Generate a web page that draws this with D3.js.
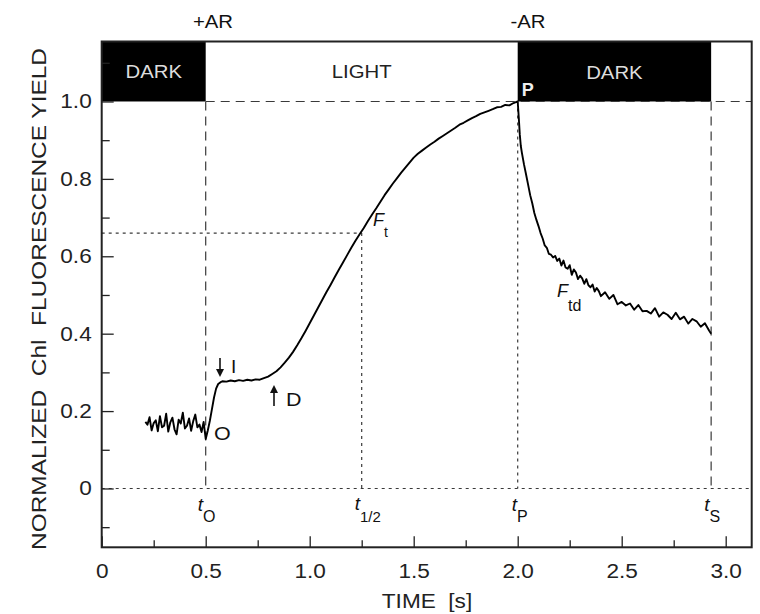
<!DOCTYPE html>
<html>
<head>
<meta charset="utf-8">
<script src="https://cdn.jsdelivr.net/npm/d3@7"></script>
<style>
  body { margin: 0; background: #fff; }
  svg { display: block; font-family: "Liberation Sans", Arial, sans-serif; }
  text { white-space: pre; }
</style>
</head>
<body>
<svg id="chart" width="760" height="614"></svg>
<script>
// tempo (s) e rendimento de fluorescência normalizado
const timeS = [
  0.21, 0.22, 0.23, 0.24, 0.25, 0.26, 0.27, 0.28, 0.29, 0.30,
  0.31, 0.32, 0.33, 0.34, 0.35, 0.36, 0.37, 0.38, 0.39, 0.40,
  0.41, 0.42, 0.43, 0.44, 0.45, 0.46, 0.47, 0.48, 0.49, 0.50,
  0.51, 0.52, 0.53, 0.54, 0.55, 0.56, 0.57, 0.58, 0.60, 0.62,
  0.64, 0.66, 0.68, 0.70, 0.72, 0.74, 0.76, 0.78, 0.80, 0.82,
  0.84, 0.86, 0.88, 0.90, 0.92, 0.94, 0.96, 0.98, 1.00, 1.02,
  1.04, 1.06, 1.08, 1.10, 1.12, 1.14, 1.16, 1.18, 1.20, 1.22,
  1.24, 1.26, 1.28, 1.30, 1.32, 1.34, 1.36, 1.38, 1.40, 1.42,
  1.44, 1.46, 1.48, 1.50, 1.52, 1.54, 1.56, 1.58, 1.60, 1.62,
  1.64, 1.66, 1.68, 1.70, 1.72, 1.74, 1.76, 1.78, 1.80, 1.82,
  1.84, 1.86, 1.88, 1.90, 1.92, 1.94, 1.96, 1.98, 2.00,
  2.005, 2.01, 2.015, 2.02, 2.03, 2.04, 2.05, 2.06, 2.07, 2.08,
  2.09, 2.10, 2.11, 2.12, 2.13, 2.14, 2.15, 2.16, 2.17, 2.18,
  2.19, 2.20, 2.21, 2.22, 2.23, 2.24, 2.25, 2.26, 2.27, 2.28,
  2.29, 2.30, 2.31, 2.32, 2.33, 2.34, 2.35, 2.36, 2.37, 2.38,
  2.39, 2.40, 2.42, 2.44, 2.46, 2.48, 2.50, 2.52, 2.54, 2.56,
  2.58, 2.60, 2.62, 2.64, 2.66, 2.68, 2.70, 2.72, 2.74, 2.76,
  2.78, 2.80, 2.82, 2.84, 2.86, 2.88, 2.90, 2.92, 2.93
];
const yieldF = [
  0.172, 0.165, 0.184, 0.150, 0.169, 0.176, 0.148, 0.187, 0.158, 0.162,
  0.193, 0.147, 0.171, 0.183, 0.153, 0.140, 0.178, 0.168, 0.196, 0.155,
  0.162, 0.181, 0.149, 0.174, 0.191, 0.158, 0.165, 0.146, 0.172, 0.128,
  0.150, 0.175, 0.205, 0.235, 0.258, 0.270, 0.274, 0.277, 0.276, 0.279,
  0.277, 0.280, 0.278, 0.281, 0.279, 0.282, 0.281, 0.285, 0.289, 0.296,
  0.303, 0.313, 0.325, 0.338, 0.353, 0.370, 0.388, 0.407, 0.427, 0.447,
  0.467, 0.487, 0.507, 0.526, 0.546, 0.565, 0.584, 0.603, 0.622, 0.640,
  0.657, 0.673, 0.691, 0.708, 0.724, 0.741, 0.758, 0.773, 0.788, 0.802,
  0.816, 0.829, 0.842, 0.855, 0.865, 0.873, 0.881, 0.889, 0.896, 0.904,
  0.911, 0.918, 0.925, 0.932, 0.940, 0.945, 0.951, 0.957, 0.962, 0.968,
  0.972, 0.976, 0.980, 0.985, 0.986, 0.991, 0.990, 0.996, 1.000,
  0.960, 0.915, 0.885, 0.868, 0.838, 0.812, 0.785, 0.758, 0.737, 0.712,
  0.694, 0.678, 0.660, 0.646, 0.628, 0.622, 0.606, 0.604, 0.597, 0.601,
  0.588, 0.594, 0.576, 0.589, 0.571, 0.568, 0.577, 0.552, 0.566, 0.558,
  0.541, 0.550, 0.543, 0.529, 0.541, 0.525, 0.520, 0.527, 0.509, 0.518,
  0.510, 0.497, 0.507, 0.490, 0.500, 0.476, 0.482, 0.473, 0.478, 0.462,
  0.474, 0.458, 0.459, 0.452, 0.466, 0.444, 0.455, 0.449, 0.438, 0.454,
  0.437, 0.444, 0.426, 0.438, 0.432, 0.418, 0.427, 0.408, 0.400
];

// ticks dos eixos
const xMajorTicks = [0, 0.5, 1.0, 1.5, 2.0, 2.5, 3.0];
const xMinorTicks = [0.25, 0.75, 1.25, 1.75, 2.25, 2.75];
const yMajorTicks = [0, 0.2, 0.4, 0.6, 0.8, 1.0];
const yMinorTicks = [-0.1, 0.1, 0.3, 0.5, 0.7, 0.9, 1.1];

// tempos característicos e nível F(t1/2)
const tO = 0.5, tHalf = 1.25, tP = 2.0, tS = 2.93;
const fHalf = 0.66;

const svg = d3.select("#chart");

const x = d3.scaleLinear().domain([0, 3.125]).range([101.7, 751.7]);
const y = d3.scaleLinear().domain([-0.152, 1.155]).range([547.3, 41.5]);

const fmt = d => d === 0 ? "0" : d3.format(".1f")(d);

// caixas pretas (escuro)
svg.append("rect")
  .attr("x", x(0)).attr("y", y(1.155))
  .attr("width", x(tO) - x(0)).attr("height", y(1.0) - y(1.155))
  .attr("fill", "#000");
svg.append("rect")
  .attr("x", x(tP)).attr("y", y(1.155))
  .attr("width", x(tS) - x(tP)).attr("height", y(1.0) - y(1.155))
  .attr("fill", "#000");

// linhas guia
const longDash = "9,6";
const shortDot = "3,4";
const guide = (x1, y1, x2, y2, dash) => svg.append("line")
  .attr("x1", x(x1)).attr("y1", y(y1))
  .attr("x2", x(x2)).attr("y2", y(y2))
  .attr("stroke", "#3a3a3a").attr("stroke-width", 1.2)
  .attr("stroke-dasharray", dash);

guide(tO, 1.0, 3.125, 1.0, longDash);
guide(tO, 1.0, tO, 0, longDash);
guide(tS, 1.0, tS, 0, longDash);
guide(0, 0, 3.125, 0, shortDot);
guide(0, fHalf, tHalf, fHalf, shortDot);
guide(tHalf, fHalf, tHalf, 0, shortDot);
guide(tP, 1.0, tP, 0, shortDot);

// curva
const line = d3.line()
  .x((d, i) => x(timeS[i]))
  .y(d => y(d));

svg.append("path")
  .datum(yieldF)
  .attr("d", line)
  .attr("fill", "none")
  .attr("stroke", "#000")
  .attr("stroke-width", 1.9)
  .attr("stroke-linejoin", "round");

// eixos com ticks para dentro
svg.append("g")
  .attr("transform", `translate(0,${y(-0.152)})`)
  .call(d3.axisBottom(x).tickValues(xMajorTicks).tickFormat(fmt)
    .tickSizeInner(-11).tickSizeOuter(0).tickPadding(17));
svg.append("g")
  .attr("transform", `translate(0,${y(-0.152)})`)
  .call(d3.axisBottom(x).tickValues(xMinorTicks).tickFormat("")
    .tickSizeInner(-7).tickSizeOuter(0));

svg.append("g")
  .attr("transform", `translate(${x(0)},0)`)
  .call(d3.axisLeft(y).tickValues(yMajorTicks).tickFormat(fmt)
    .tickSizeInner(-12).tickSizeOuter(0).tickPadding(10));
svg.append("g")
  .attr("transform", `translate(${x(0)},0)`)
  .call(d3.axisLeft(y).tickValues(yMinorTicks).tickFormat("")
    .tickSizeInner(-8).tickSizeOuter(0));

svg.selectAll(".domain").remove();
svg.selectAll(".tick line").attr("stroke", "#222").attr("stroke-width", 1.3);
svg.selectAll(".tick text")
  .attr("font-family", "Liberation Sans, Arial, sans-serif")
  .style("font-size", "20px")
  .attr("fill", "#222");

// moldura
svg.append("rect")
  .attr("x", x(0)).attr("y", y(1.155))
  .attr("width", x(3.125) - x(0)).attr("height", y(-0.152) - y(1.155))
  .attr("fill", "none").attr("stroke", "#222").attr("stroke-width", 2);

// títulos dos eixos
svg.append("text")
  .attr("transform", `translate(46,${299}) rotate(-90)`)
  .attr("text-anchor", "middle")
  .attr("font-size", 20)
  .attr("fill", "#222")
  .attr("textLength", 502).attr("lengthAdjust", "spacingAndGlyphs")
  .text("NORMALIZED  Chl  FLUORESCENCE YIELD");

svg.append("text")
  .attr("x", 427).attr("y", 608)
  .attr("text-anchor", "middle")
  .attr("font-size", 20)
  .attr("fill", "#222")
  .attr("class", "wide")
  .text("TIME  [s]");

// rótulos de luz/escuro
const label = (tx, ty, txt, color, size) => svg.append("text")
  .attr("x", tx).attr("y", ty)
  .attr("text-anchor", "middle")
  .attr("font-size", size)
  .attr("fill", color)
  .attr("class", "wide")
  .text(txt);

label(213, 28, "+AR", "#111", 18);
label(528, 28, "-AR", "#111", 18);
label((x(0) + x(tO)) / 2, 78, "DARK", "#ddd", 18);
label((x(tO) + x(tP)) / 2, 78, "LIGHT", "#222", 18);
label((x(tP) + x(tS)) / 2, 79, "DARK", "#ddd", 18);

svg.append("text")
  .attr("x", x(tP) + 4).attr("y", 96)
  .attr("font-size", 18).attr("font-weight", "bold")
  .attr("fill", "#eee")
  .text("P");

// O, I, D
svg.append("text").attr("x", 214).attr("y", 440)
  .attr("font-size", 19).attr("fill", "#111").attr("class", "wide").text("O");
svg.append("text").attr("x", 231).attr("y", 373)
  .attr("font-size", 19).attr("fill", "#111").text("I");
svg.append("text").attr("x", 286).attr("y", 406)
  .attr("font-size", 19).attr("fill", "#111").attr("class", "wide").text("D");

const arrow = (ax, y1, y2) => {
  svg.append("line")
    .attr("x1", ax).attr("y1", y1).attr("x2", ax).attr("y2", y2 + (y2 > y1 ? -5 : 5))
    .attr("stroke", "#111").attr("stroke-width", 1.6);
  const d = y2 > y1 ? -1 : 1;
  svg.append("path")
    .attr("d", `M${ax},${y2} L${ax - 4},${y2 + d * 8} L${ax + 4},${y2 + d * 8} Z`)
    .attr("fill", "#111");
};
arrow(220, 358, 377);
arrow(274, 406, 385);

// F(t), F(td) e tempos
const subLabel = (tx, ty, main, sub, size, subSize, dy) => {
  const t = svg.append("text").attr("x", tx).attr("y", ty)
    .attr("font-size", size).attr("fill", "#111");
  t.append("tspan").attr("font-style", "italic").text(main);
  t.append("tspan").attr("font-size", subSize).attr("dy", dy).text(sub);
};
subLabel(373, 226, "F", "t", 18, 14, 11);
subLabel(557, 297, "F", "td", 18, 16, 14);

subLabel(x(tO) - 8, 511, "t", "O", 19, 16, 11);
subLabel(x(tHalf) - 7, 510, "t", "1/2", 19, 15, 12);
subLabel(x(tP) - 6, 511, "t", "P", 19, 16, 11);
subLabel(x(tS) - 7, 511, "t", "S", 19, 16, 11);

// texto um pouco mais largo, como no original
svg.selectAll(".tick text, text.wide").each(function () {
  const w = this.getComputedTextLength();
  this.setAttribute("textLength", w * 1.13);
  this.setAttribute("lengthAdjust", "spacingAndGlyphs");
});
</script>
</body>
</html>
